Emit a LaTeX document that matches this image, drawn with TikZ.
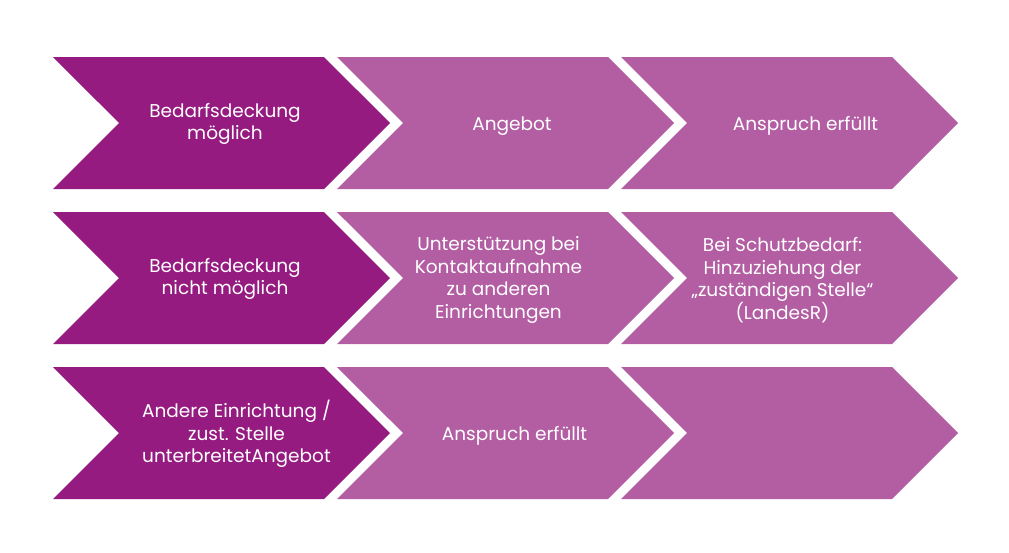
\documentclass[tikz,border=0pt]{standalone}
\usepackage{fontspec}
\setmainfont{Poppins}
\usetikzlibrary{shapes.symbols,positioning}
\definecolor{plumdark}{HTML}{951B81}
\definecolor{plumlight}{HTML}{B35DA3}
\tikzstyle{step1} = [signal, signal from=west, signal to=east, signal pointer angle=90, fill=plumdark, inner sep=0pt, minimum width=337pt, minimum height=132pt]
\tikzstyle{step2} = [step1, fill=plumlight]
\tikzstyle{steptext} = [text=white, align=center, inner sep=0pt, font=\fontsize{18.5}{22.5}\selectfont]

\begin{document}
\begin{tikzpicture}[x=1pt, y=-1pt, node distance=284pt]
	\useasboundingbox (0,0) rectangle (1009,552);
	% chevrons
	\node [step1] (need) at (221.5,123) {};
	\node [step2, right of=need] (offer) {};
	\node [step2, right of=offer] (done) {};
	\node [step1, below of=need, node distance=155pt] (noneed) {};
	\node [step2, right of=noneed] (support) {};
	\node [step2, right of=support] (protect) {};
	\node [step1, below of=noneed, node distance=155pt] (other) {};
	\node [step2, right of=other] (done2) {};
	\node [step2, right of=done2] (empty) {};
	% texts
	\node [steptext] (needtxt) at ([shift={(3.5,1)}]need) {Bedarfsdeckung\\möglich};
	\node [steptext] (offertxt) at ([shift={(6.5,3)}]offer) {Angebot};
	\node [steptext] (donetxt) at ([shift={(16,3)}]done) {Anspruch erfüllt};
	\node [steptext] (noneedtxt) at ([shift={(3.5,1)}]noneed) {Bedarfsdeckung\\nicht möglich};
	\node [steptext] (supporttxt) at ([shift={(-7,2)}]support) {Unterstützung bei\\Kontaktaufnahme\\zu anderen\\Einrichtungen};
	\node [steptext] (protecttxt) at ([shift={(-7,2)}]protect) {Bei Schutzbedarf:\\Hinzuziehung der\\„zuständigen Stelle“\\(LandesR)};
	\node [steptext] (othertxt) at ([shift={(15,1)}]other) {Andere Einrichtung /\\zust. Stelle\\unterbreitetAngebot};
	\node [steptext] (done2txt) at ([shift={(9,3)}]done2) {Anspruch erfüllt};
\end{tikzpicture}
\end{document}
